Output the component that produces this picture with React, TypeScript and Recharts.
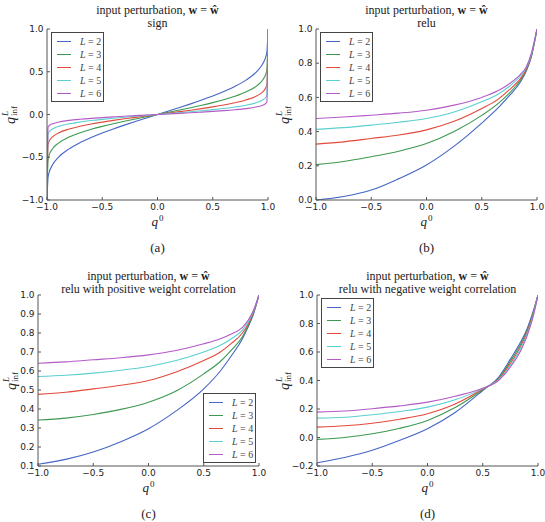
import React from 'react';
import { LineChart, Line, XAxis, YAxis, Legend } from 'recharts';

const AXIS = '#555';
const TICK_FONT = '"DejaVu Sans", sans-serif';
const SERIF = '"Liberation Serif", "Times New Roman", serif';

// depth of the network for each curve
const depths = ['2', '3', '4', '5', '6'];
const lineColors = ['#4466c4', '#3d9950', '#e24a3c', '#5ccfd0', '#b35cc8'];
const xTicks = [-1, -0.5, 0, 0.5, 1];

// (a) sign
const signX = [-1, -0.99, -0.98, -0.95, -0.9, -0.8, -0.7, -0.6, -0.5, -0.4, -0.3, -0.2, -0.1, 0, 0.1, 0.2, 0.3, 0.4, 0.5, 0.6, 0.7, 0.8, 0.9, 0.95, 0.98, 0.99, 1];
const signL2 = [-1, -0.7289, -0.675, -0.5883, -0.5048, -0.402, -0.3287, -0.2687, -0.2164, -0.1688, -0.1243, -0.0818, -0.0406, 0, 0.0406, 0.0818, 0.1243, 0.1688, 0.2164, 0.2687, 0.3287, 0.402, 0.5048, 0.5883, 0.675, 0.7289, 1];
const signL3 = [-1, -0.5199, -0.4718, -0.4004, -0.3369, -0.2634, -0.2132, -0.1732, -0.1388, -0.108, -0.0793, -0.0522, -0.0259, 0, 0.0259, 0.0522, 0.0793, 0.108, 0.1388, 0.1732, 0.2132, 0.2634, 0.3369, 0.4004, 0.4718, 0.5199, 1];
const signL4 = [-1, -0.3481, -0.3127, -0.2623, -0.2188, -0.1697, -0.1368, -0.1108, -0.0887, -0.0689, -0.0505, -0.0332, -0.0165, 0, 0.0165, 0.0332, 0.0505, 0.0689, 0.0887, 0.1108, 0.1368, 0.1697, 0.2188, 0.2623, 0.3127, 0.3481, 1];
const signL5 = [-1, -0.2264, -0.2025, -0.169, -0.1404, -0.1086, -0.0874, -0.0707, -0.0565, -0.0438, -0.0322, -0.0211, -0.0105, 0, 0.0105, 0.0211, 0.0322, 0.0438, 0.0565, 0.0707, 0.0874, 0.1086, 0.1404, 0.169, 0.2025, 0.2264, 1];
const signL6 = [-1, -0.1454, -0.1298, -0.1081, -0.0897, -0.0692, -0.0557, -0.045, -0.036, -0.0279, -0.0205, -0.0135, -0.0067, 0, 0.0067, 0.0135, 0.0205, 0.0279, 0.036, 0.045, 0.0557, 0.0692, 0.0897, 0.1081, 0.1298, 0.1454, 1];

// (b) relu
const reluX = [-1, -0.75, -0.5, -0.25, 0, 0.25, 0.5, 0.65, 0.75, 0.85, 0.9, 0.95, 1];
const reluL2 = [0, 0.02, 0.058, 0.125, 0.205, 0.315, 0.45, 0.54, 0.61, 0.69, 0.75, 0.84, 1];
const reluL3 = [0.207, 0.225, 0.253, 0.285, 0.33, 0.4, 0.495, 0.565, 0.625, 0.7, 0.755, 0.845, 1];
const reluL4 = [0.327, 0.34, 0.36, 0.38, 0.41, 0.46, 0.535, 0.59, 0.645, 0.71, 0.76, 0.85, 1];
const reluL5 = [0.413, 0.423, 0.438, 0.455, 0.477, 0.515, 0.574, 0.62, 0.665, 0.725, 0.77, 0.855, 1];
const reluL6 = [0.477, 0.485, 0.496, 0.508, 0.525, 0.555, 0.6, 0.64, 0.68, 0.735, 0.775, 0.86, 1];

// (c) relu, positive weight correlation
const posX = [-1, -0.75, -0.5, -0.25, 0, 0.25, 0.5, 0.65, 0.75, 0.85, 0.9, 0.95, 1];
const posL2 = [0.109, 0.135, 0.174, 0.228, 0.296, 0.39, 0.506, 0.6, 0.68, 0.77, 0.83, 0.9, 1];
const posL3 = [0.342, 0.352, 0.371, 0.398, 0.436, 0.495, 0.585, 0.65, 0.71, 0.78, 0.835, 0.905, 1];
const posL4 = [0.477, 0.488, 0.506, 0.525, 0.55, 0.595, 0.655, 0.7, 0.745, 0.8, 0.845, 0.91, 1];
const posL5 = [0.571, 0.578, 0.589, 0.604, 0.624, 0.655, 0.7, 0.735, 0.77, 0.815, 0.855, 0.915, 1];
const posL6 = [0.641, 0.648, 0.659, 0.67, 0.685, 0.708, 0.743, 0.77, 0.795, 0.83, 0.865, 0.92, 1];

// (d) relu, negative weight correlation: curves cross near q0 = 0.54
const negX = [-1, -0.75, -0.5, -0.25, 0, 0.25, 0.5, 0.65, 0.75, 0.85, 0.9, 0.95, 1];
const negL2 = [-0.177, -0.14, -0.09, -0.02, 0.061, 0.175, 0.33, 0.43, 0.55, 0.68, 0.76, 0.87, 1];
const negL3 = [-0.013, 0, 0.026, 0.065, 0.12, 0.21, 0.336, 0.42, 0.535, 0.665, 0.748, 0.86, 1];
const negL4 = [0.073, 0.082, 0.1, 0.128, 0.167, 0.235, 0.34, 0.415, 0.52, 0.65, 0.735, 0.85, 1];
const negL5 = [0.136, 0.142, 0.16, 0.183, 0.213, 0.265, 0.343, 0.41, 0.505, 0.635, 0.722, 0.84, 1];
const negL6 = [0.178, 0.186, 0.202, 0.222, 0.248, 0.29, 0.345, 0.405, 0.495, 0.62, 0.71, 0.83, 1];

const PW = 221;
const PH = 171;
const YW = 36;
const MT = 4;
const MR = 10;
const XH = 16;
const LEG_W = 53;
const LEG_H = 70;

type Panel = {
  caption: string;
  subtitle: string;
  left: number;
  top: number;
  xs: number[];
  series: number[][];
  yDomain: [number, number];
  yTicks: number[];
  legendAt: 'upper left' | 'lower right';
  ylabelGap: number;
};

const panels: Panel[] = [
  { caption: '(a)', subtitle: 'sign', left: 47, top: 29, xs: signX, series: [signL2, signL3, signL4, signL5, signL6], yDomain: [-1, 1], yTicks: [-1, -0.5, 0, 0.5, 1], legendAt: 'upper left', ylabelGap: 37 },
  { caption: '(b)', subtitle: 'relu', left: 316, top: 29, xs: reluX, series: [reluL2, reluL3, reluL4, reluL5, reluL6], yDomain: [0, 1], yTicks: [0, 0.2, 0.4, 0.6, 0.8, 1], legendAt: 'upper left', ylabelGap: 32 },
  { caption: '(c)', subtitle: 'relu with positive weight correlation', left: 38, top: 295, xs: posX, series: [posL2, posL3, posL4, posL5, posL6], yDomain: [0.1, 1], yTicks: [0.1, 0.2, 0.3, 0.4, 0.5, 0.6, 0.7, 0.8, 0.9, 1], legendAt: 'lower right', ylabelGap: 27 },
  { caption: '(d)', subtitle: 'relu with negative weight correlation', left: 317, top: 295, xs: negX, series: [negL2, negL3, negL4, negL5, negL6], yDomain: [-0.2, 1], yTicks: [-0.2, 0, 0.2, 0.4, 0.6, 0.8, 1], legendAt: 'upper left', ylabelGap: 33 },
];

const fmt = (v: number) => (v < 0 ? '\u2212' : '') + Math.abs(v).toFixed(1);

const tickText = { fontFamily: TICK_FONT, fontSize: 9, fill: '#222' };

// matplotlib-style ticks pointing into the axes box
const BottomTick = ({ x, y, payload }: any) => (
  <g>
    <line x1={x} x2={x} y1={y} y2={y - 3} stroke={AXIS} />
    <text x={x} y={y + 4} dy="0.71em" textAnchor="middle" {...tickText}>{fmt(payload.value)}</text>
  </g>
);
const TopTick = ({ x, y }: any) => <line x1={x} x2={x} y1={y} y2={y + 3} stroke={AXIS} />;
const LeftTick = ({ x, y, payload }: any) => (
  <g>
    <line x1={x} x2={x + 3} y1={y} y2={y} stroke={AXIS} />
    <text x={x - 3.5} y={y} dy="0.35em" textAnchor="end" {...tickText}>{fmt(payload.value)}</text>
  </g>
);
const RightTick = ({ x, y }: any) => <line x1={x} x2={x - 3} y1={y} y2={y} stroke={AXIS} />;

const LegendBox = () => (
  <div style={{ width: LEG_W, height: LEG_H, boxSizing: 'border-box', border: '1px solid #444', background: '#fff', paddingTop: 2 }}>
    {depths.map((d, k) => (
      <div key={d} style={{ display: 'flex', alignItems: 'center', height: 13.1 }}>
        <span style={{ display: 'inline-block', width: 14, marginLeft: 5, borderTop: `1px solid ${lineColors[k]}` }} />
        <span style={{ marginLeft: 9, fontFamily: SERIF, fontSize: 10, color: '#444', whiteSpace: 'nowrap' }}>
          <i>L</i> = {d}
        </span>
      </div>
    ))}
  </div>
);

const PanelChart = ({ p }: { p: Panel }) => {
  const rows = p.xs.map((x, i) => {
    const r: Record<string, number> = { x };
    p.series.forEach((s, k) => {
      r['L' + depths[k]] = s[i];
    });
    return r;
  });
  const legendPos =
    p.legendAt === 'upper left'
      ? { left: YW + 4, top: MT + 3 }
      : { left: YW + PW - 3 - LEG_W, top: MT + PH - 3 - LEG_H };
  const cx = p.left + PW / 2;
  const cy = p.top + PH / 2;
  const centered: React.CSSProperties = { position: 'absolute', transform: 'translate(-50%, -50%)', whiteSpace: 'nowrap', fontFamily: SERIF, color: '#222', lineHeight: 1 };

  return (
    <>
      <div style={{ position: 'absolute', left: p.left - YW, top: p.top - MT }}>
        <LineChart width={YW + PW + MR} height={MT + PH + XH} data={rows} margin={{ top: MT, right: MR, bottom: 0, left: 0 }}>
          <XAxis dataKey="x" type="number" domain={[-1, 1]} ticks={xTicks} interval={0} height={XH} tickSize={0} tickMargin={0} tickLine={false} axisLine={{ stroke: AXIS }} tick={(t: any) => <BottomTick {...t} />} allowDataOverflow />
          <XAxis xAxisId="top" orientation="top" dataKey="x" type="number" domain={[-1, 1]} ticks={xTicks} interval={0} height={0} tickSize={0} tickMargin={0} tickLine={false} axisLine={{ stroke: AXIS }} tick={(t: any) => <TopTick {...t} />} allowDataOverflow />
          <YAxis type="number" domain={p.yDomain} ticks={p.yTicks} interval={0} width={YW} tickSize={0} tickMargin={0} tickLine={false} axisLine={{ stroke: AXIS }} tick={(t: any) => <LeftTick {...t} />} allowDataOverflow />
          <YAxis yAxisId="right" orientation="right" type="number" domain={p.yDomain} ticks={p.yTicks} interval={0} width={0} tickSize={0} tickMargin={0} tickLine={false} axisLine={{ stroke: AXIS }} tick={(t: any) => <RightTick {...t} />} allowDataOverflow />
          <Legend layout="vertical" align="center" verticalAlign="middle" wrapperStyle={{ ...legendPos, width: LEG_W, height: LEG_H }} content={() => <LegendBox />} />
          {p.series.map((_, k) => (
            <Line key={depths[k]} type="monotone" dataKey={'L' + depths[k]} stroke={lineColors[k]} strokeWidth={1.1} dot={false} isAnimationActive={false} />
          ))}
        </LineChart>
      </div>
      <div style={{ ...centered, left: cx, top: p.top - 19, fontSize: 12 }}>
        input perturbation, <b>w</b> = <b>{'\u0175'}</b>
      </div>
      <div style={{ ...centered, left: cx, top: p.top - 6, fontSize: 12 }}>{p.subtitle}</div>
      {/* x label q^0 */}
      <div style={{ position: 'absolute', left: cx, top: p.top + PH + 16, transform: 'translateX(-50%)', whiteSpace: 'nowrap', fontFamily: SERIF, color: '#222', fontSize: 13, lineHeight: '11px' }}>
        <i>q</i>
        <span style={{ fontSize: 9, position: 'relative', top: -5, marginLeft: 1 }}>0</span>
      </div>
      <div style={{ ...centered, left: cx, top: p.top + PH + 46.5, fontSize: 13 }}>{p.caption}</div>
      {/* y label q^L_inf */}
      <div style={{ ...centered, left: p.left - p.ylabelGap, top: cy, fontSize: 14, lineHeight: '10px', transform: 'translate(-50%, -50%) rotate(-90deg)' }}>
        <i>q</i>
        <span style={{ position: 'relative', display: 'inline-block', width: 11, height: 10 }}>
          <i style={{ position: 'absolute', left: 1, top: -5, fontSize: 9 }}>L</i>
          <span style={{ position: 'absolute', left: 1, top: 4, fontSize: 9 }}>inf</span>
        </span>
      </div>
    </>
  );
};

export default function App() {
  return (
    <div style={{ position: 'absolute', left: 0, top: 0, width: 545, height: 522, background: '#fff', overflow: 'hidden' }}>
      {panels.map((p) => (
        <PanelChart key={p.caption} p={p} />
      ))}
    </div>
  );
}
